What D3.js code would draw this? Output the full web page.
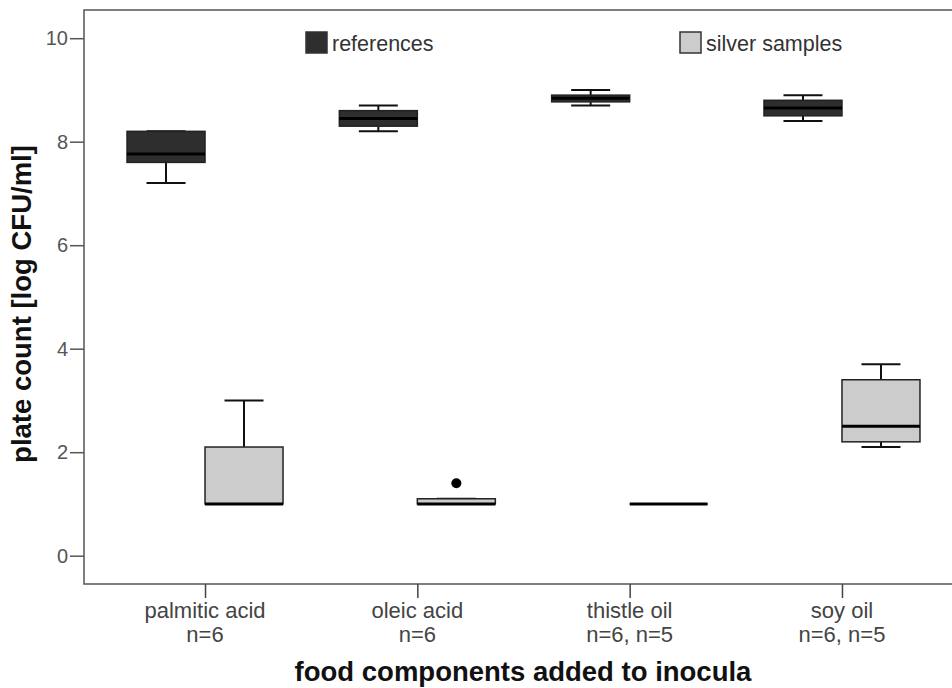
<!DOCTYPE html>
<html>
<head>
<meta charset="utf-8">
<script src="https://cdn.jsdelivr.net/npm/d3@7"></script>
<style>
  body { margin: 0; background: #fff; }
  text { font-family: "Liberation Sans", Arial, sans-serif; }
</style>
</head>
<body>
<div id="container"></div>
<script>
/* CONSTANTS AND GLOBALS */
const width = 952,
  height = 688;

// categories and their n= labels
const categories = ["palmitic acid", "oleic acid", "thistle oil", "soy oil"];
const nLabels = ["n=6", "n=6", "n=6, n=5", "n=6, n=5"];
const groups = ["references", "silver samples"];

// box stats per category: [lowWhisker, q1, median, q3, highWhisker]
const referenceStats = [
  [7.2, 7.6, 7.76, 8.2, 8.2],
  [8.2, 8.3, 8.45, 8.6, 8.7],
  [8.7, 8.77, 8.84, 8.9, 9.0],
  [8.4, 8.5, 8.65, 8.8, 8.9]
];
const silverStats = [
  [1.0, 1.0, 1.0, 2.1, 3.0],
  [1.0, 1.0, 1.0, 1.1, 1.1],
  [1.0, 1.0, 1.0, 1.0, 1.0],
  [2.1, 2.2, 2.5, 3.4, 3.7]
];
// outliers: [categoryIndex, groupIndex, value]
const outliers = [[1, 1, 1.4]];

const yTicks = [0, 2, 4, 6, 8, 10];
const fills = ["#2e2e2e", "#cccccc"];

const svg = d3.select("#container")
  .append("svg")
  .attr("width", width)
  .attr("height", height);

const plot = { left: 84, top: 10, right: 963, bottom: 584 };

const y = d3.scaleLinear()
  .domain([-0.547, 10.545])
  .range([plot.bottom, plot.top]);

const x = d3.scalePoint()
  .domain(categories)
  .range([plot.left, plot.right])
  .padding(0.57);

const x1 = d3.scaleBand()
  .domain(groups)
  .range([-78, 78]);

// frame
svg.append("rect")
  .attr("x", plot.left)
  .attr("y", plot.top)
  .attr("width", plot.right - plot.left)
  .attr("height", plot.bottom - plot.top)
  .attr("fill", "none")
  .attr("stroke", "#555")
  .attr("stroke-width", 1.5);

// y axis
const yAxis = svg.append("g")
  .attr("transform", `translate(${plot.left},0)`)
  .call(d3.axisLeft(y).tickValues(yTicks).tickSize(14).tickPadding(2).tickFormat(d3.format("d")));
yAxis.select(".domain").remove();
yAxis.selectAll("line").attr("stroke", "#555").attr("stroke-width", 1.5);
yAxis.selectAll("text")
  .attr("fill", "#555")
  .style("font-size", "20px")
  .style("font-family", "Liberation Sans, Arial, sans-serif");

// x axis
const xAxis = svg.append("g")
  .attr("transform", `translate(0,${plot.bottom})`)
  .call(d3.axisBottom(x).tickSize(14).tickFormat(""));
xAxis.select(".domain").remove();
xAxis.selectAll("line").attr("stroke", "#444").attr("stroke-width", 1.5);

const catLabels = svg.append("g");
categories.forEach((c, i) => {
  const t = catLabels.append("text")
    .attr("x", x(c))
    .attr("y", 618)
    .attr("text-anchor", "middle")
    .attr("fill", "#444")
    .style("font-size", "22px");
  t.append("tspan").attr("x", x(c)).text(c);
  t.append("tspan").attr("x", x(c)).attr("dy", 23.5).text(nLabels[i]);
});

// axis titles
svg.append("text")
  .attr("x", 523)
  .attr("y", 681)
  .attr("text-anchor", "middle")
  .attr("fill", "#111")
  .style("font-size", "27.5px")
  .style("font-weight", "bold")
  .text("food components added to inocula");

svg.append("text")
  .attr("transform", "translate(31,304) rotate(-90)")
  .attr("text-anchor", "middle")
  .attr("fill", "#111")
  .style("font-size", "27.5px")
  .style("font-weight", "bold")
  .text("plate count [log CFU/ml]");

// boxes
const boxData = [];
categories.forEach((c, i) => {
  boxData.push({ cat: c, group: groups[0], s: referenceStats[i], fill: fills[0] });
  boxData.push({ cat: c, group: groups[1], s: silverStats[i], fill: fills[1] });
});

const bw = x1.bandwidth();
const box = svg.append("g").selectAll("g")
  .data(boxData)
  .join("g")
  .attr("transform", d => `translate(${x(d.cat) + x1(d.group)},0)`);

// whiskers
box.append("line")
  .attr("x1", bw / 2).attr("x2", bw / 2)
  .attr("y1", d => y(d.s[0])).attr("y2", d => y(d.s[1]))
  .attr("stroke", "#111").attr("stroke-width", 2);
box.append("line")
  .attr("x1", bw / 2).attr("x2", bw / 2)
  .attr("y1", d => y(d.s[3])).attr("y2", d => y(d.s[4]))
  .attr("stroke", "#111").attr("stroke-width", 2);
box.selectAll(".cap")
  .data(d => [d.s[0], d.s[4]])
  .join("line")
  .attr("class", "cap")
  .attr("x1", bw / 4).attr("x2", bw * 3 / 4)
  .attr("y1", v => y(v)).attr("y2", v => y(v))
  .attr("stroke", "#111").attr("stroke-width", 2);

box.append("rect")
  .attr("x", 0)
  .attr("width", bw)
  .attr("y", d => y(d.s[3]))
  .attr("height", d => y(d.s[1]) - y(d.s[3]))
  .attr("fill", d => d.fill)
  .attr("stroke", "#222")
  .attr("stroke-width", 1.5);

box.append("line")
  .attr("x1", 0).attr("x2", bw)
  .attr("y1", d => y(d.s[2])).attr("y2", d => y(d.s[2]))
  .attr("stroke", "#000").attr("stroke-width", 3);

// outliers
svg.append("g").selectAll("circle")
  .data(outliers)
  .join("circle")
  .attr("cx", d => x(categories[d[0]]) + x1(groups[d[1]]) + bw / 2)
  .attr("cy", d => y(d[2]))
  .attr("r", 5)
  .attr("fill", "#000");

// legend
const legend = svg.append("g");
const legendX = [306, 680];
groups.forEach((g, i) => {
  legend.append("rect")
    .attr("x", legendX[i]).attr("y", 32)
    .attr("width", 21).attr("height", 21)
    .attr("fill", fills[i])
    .attr("stroke", "#333").attr("stroke-width", 1.5);
  legend.append("text")
    .attr("x", legendX[i] + 26).attr("y", 51)
    .attr("fill", "#333")
    .style("font-size", "21.5px")
    .text(g);
});
</script>
</body>
</html>
